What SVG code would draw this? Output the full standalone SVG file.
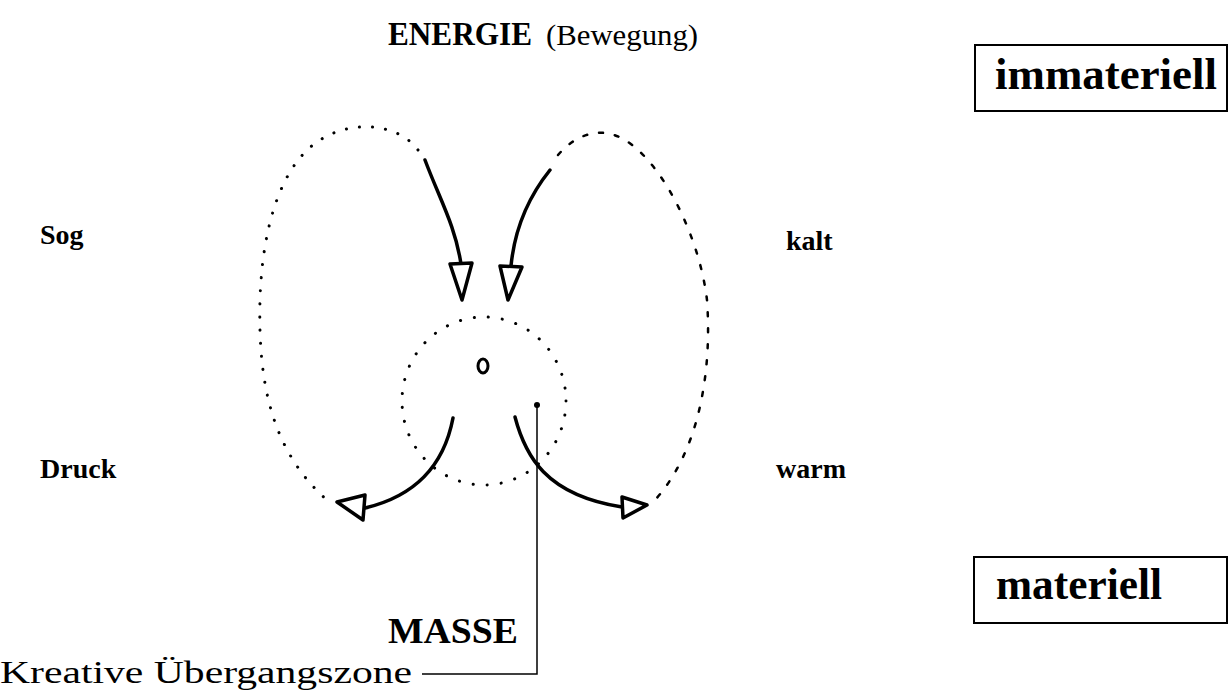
<svg xmlns="http://www.w3.org/2000/svg" width="1228" height="691" viewBox="0 0 1228 691">
<style>
.b{font-family:"Liberation Serif","Times New Roman",serif;font-weight:bold;fill:#000}
.r{font-family:"Liberation Serif","Times New Roman",serif;fill:#000}
.dot{fill:none;stroke:#000;stroke-width:3;stroke-linecap:round;stroke-dasharray:0.1 13}
.dash{fill:none;stroke:#000;stroke-width:2.5;stroke-linecap:round;stroke-dasharray:4 12}
.arr{fill:none;stroke:#000;stroke-width:3.5;stroke-linecap:round}
.head{fill:#fff;stroke:#000;stroke-width:3.5;stroke-linejoin:round}
.box{fill:none;stroke:#000;stroke-width:2}
</style>
<rect width="1228" height="691" fill="#fff"/>
<g id="title">
<text class="b" x="388" y="45" font-size="33" textLength="144" lengthAdjust="spacingAndGlyphs">ENERGIE</text>
<text class="r" x="546" y="45" font-size="29" textLength="152" lengthAdjust="spacingAndGlyphs">(Bewegung)</text>
</g>
<g id="immateriell">
<rect class="box" x="975" y="45" width="252" height="66"/>
<text class="b" x="995" y="89" font-size="44" textLength="222" lengthAdjust="spacingAndGlyphs">immateriell</text>
</g>
<g id="materiell">
<rect class="box" x="974" y="557" width="253" height="66"/>
<text class="b" x="996" y="599" font-size="44" textLength="166" lengthAdjust="spacingAndGlyphs">materiell</text>
</g>
<g id="sog"><text class="b" x="40" y="244" font-size="28">Sog</text></g>
<g id="kalt"><text class="b" x="786" y="250" font-size="28">kalt</text></g>
<g id="druck"><text class="b" x="40" y="478" font-size="28">Druck</text></g>
<g id="warm"><text class="b" x="776" y="478" font-size="28">warm</text></g>
<g id="masse"><text class="b" x="388" y="643" font-size="35" textLength="130" lengthAdjust="spacingAndGlyphs">MASSE</text></g>
<g id="zone"><text class="r" x="0" y="683" font-size="32" textLength="412" lengthAdjust="spacingAndGlyphs">Kreative Übergangszone</text></g>
<g id="center">
<ellipse cx="484" cy="401" rx="82" ry="84" fill="none" stroke="#000" stroke-width="3" stroke-linecap="round" stroke-dasharray="0.1 14"/>
<ellipse cx="483" cy="366" rx="5" ry="7" fill="none" stroke="#000" stroke-width="3"/>
<circle cx="537" cy="405" r="3" fill="#000"/>
</g>
<g id="connectors">
<path class="dot" d="M418,150 C400,125 355,118 320,140 C280,165 262,230 260,300 C258,380 270,450 328,501"/>
<path class="dash" d="M558,155 C575,135 600,125 625,140 C665,165 700,240 707,300 C712,370 700,450 655,500"/>
<path class="arr" d="M425,160 C440,200 455,225 461,264"/>
<polygon class="head" points="450,264 472,263 462,300"/>
<path class="arr" d="M550,170 C530,195 515,225 511,266"/>
<polygon class="head" points="500,266 522,267 508,300"/>
<path class="arr" d="M453,418 C445,460 420,495 365,508"/>
<polygon class="head" points="337,502 365,495 363,520"/>
<path class="arr" d="M515,417 C525,455 545,495 622,507"/>
<polygon class="head" points="622,497 623,518 647,505"/>
<polyline points="537,405 537,674 422,674" fill="none" stroke="#000" stroke-width="1.5"/>
</g>
</svg>
